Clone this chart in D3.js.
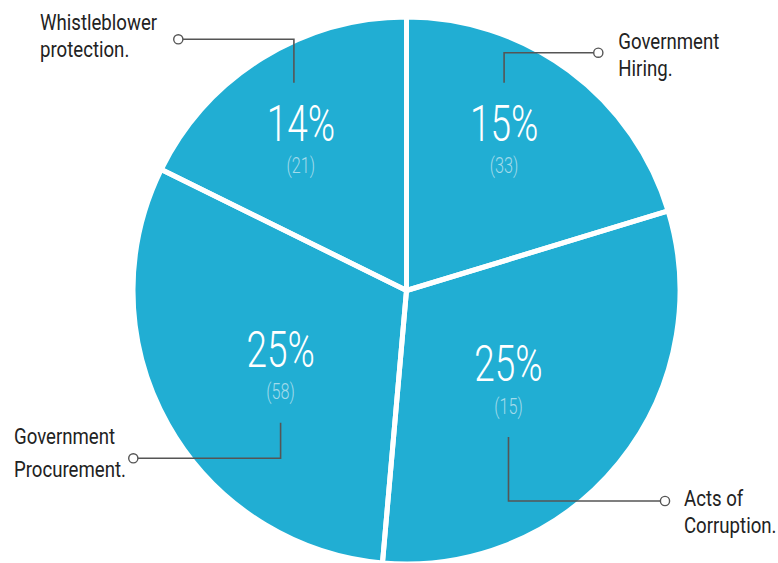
<!DOCTYPE html>
<html><head><meta charset="utf-8">
<script src="https://cdn.jsdelivr.net/npm/d3@7"></script>
<style>body{margin:0;background:#fff}svg{display:block}</style>
</head><body><svg id="chart" width="778" height="563"></svg>
<script>
// ---- data ----
const categories = ["Government Hiring.", "Acts of Corruption.", "Government Procurement.", "Whistleblower protection."];
const labelLines = [["Government", "Hiring."], ["Acts of", "Corruption."], ["Government", "Procurement."], ["Whistleblower", "protection."]];
const percentLabels = ["15%", "25%", "25%", "14%"];
const counts = [33, 15, 58, 21];
// slice sizes as drawn in the picture (share of the full circle, %)
const sliceShares = [20.3, 31.1, 30.9, 17.7];

// ---- layout (presentation only) ----
const W = 778, H = 563, cx = 406.5, cy = 290.5, R = 271, gap = 5;
const color = "#21aed3";
// value-label anchor, polar around the centre: [angle deg clockwise from top, radius]
const valuePolar = [[33.1, 178.7], [131.6, 136.4], [238.8, 147.2], [324.8, 183.2]];
// callouts: circle position, text position, line gap, leader side ("top" = leader comes down to block, "bottom" = up to block)
const callouts = [
  {circle: [598.3, 52.7], text: [618.3, 49.3], lineGap: 26.5, side: "top"},
  {circle: [665, 501], text: [684, 505.7], lineGap: 27, side: "bottom"},
  {circle: [133.3, 458.3], text: [14, 444], lineGap: 32.7, side: "bottom"},
  {circle: [178.3, 39.3], text: [40, 30], lineGap: 27.3, side: "top"}
];

const svg = d3.select("#chart");
const g = svg.append("g").attr("transform", `translate(${cx},${cy})`);

const pie = d3.pie().sort(null).value(d => d)(sliceShares);
const arc = d3.arc().innerRadius(0).outerRadius(R + gap / 2);

g.selectAll("path.fill").data(pie).join("path")
  .attr("class", "fill").attr("d", arc).attr("fill", color);
g.selectAll("path.sep").data(pie).join("path")
  .attr("class", "sep").attr("d", arc).attr("fill", "none")
  .attr("stroke", "#fff").attr("stroke-width", gap).attr("stroke-linejoin", "round");

function polar(a, r) {
  const t = a * Math.PI / 180;
  return [cx + r * Math.sin(t), cy - r * Math.cos(t)];
}

const sx = 0.74;
pie.forEach((d, i) => {
  const [x, y] = polar(valuePolar[i][0], valuePolar[i][1]);
  const vg = svg.append("g").attr("transform", `translate(${x},${y}) scale(${sx},1)`);
  vg.append("text").attr("text-anchor", "middle")
    .attr("font-family", "Roboto, 'Open Sans', sans-serif").attr("font-weight", 300)
    .attr("font-size", 50).attr("fill", "#fff").text(percentLabels[i]);
  vg.append("text").attr("text-anchor", "middle").attr("y", 32.5)
    .attr("font-family", "Roboto, 'Open Sans', sans-serif").attr("font-weight", 300)
    .attr("font-size", 22).attr("fill", "#a3dbeb").text(`(${counts[i]})`);

  // leader line
  const c = callouts[i];
  const endY = c.side === "top" ? y - 58 : y + 32.5 + 23.5;
  const lx = x + (i === 3 ? -7 : 0);
  const pts = [[c.circle[0], c.circle[1]], [lx, c.circle[1]], [lx, endY]];
  svg.append("path").attr("d", d3.line()(pts)).attr("fill", "none")
    .attr("stroke", "#555").attr("stroke-width", 1.6);
  svg.append("circle").attr("cx", c.circle[0]).attr("cy", c.circle[1]).attr("r", 4.6)
    .attr("fill", "#fff").attr("stroke", "#555").attr("stroke-width", 1.4);

  const tg = svg.append("g").attr("transform", `translate(${c.text[0]},${c.text[1]}) scale(0.81,1)`);
  labelLines[i].forEach((ln, j) => {
    tg.append("text").attr("y", j * c.lineGap)
      .attr("font-family", "Roboto, 'Open Sans', sans-serif").attr("font-weight", 400)
      .attr("font-size", 23).attr("fill", "#222").text(ln);
  });
});
</script>
</body></html>
